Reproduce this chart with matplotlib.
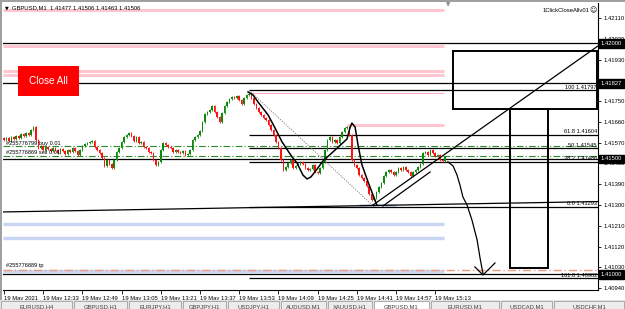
import matplotlib
matplotlib.use("Agg")
import matplotlib.pyplot as plt
from matplotlib.patches import Rectangle
import numpy as np

W, H = 625, 309

# ---- price data (GBPUSD M1), one close per bar ----
FIRST_OPEN = 1.41590
CLOSES = [
    1.41582, 1.41590, 1.41577, 1.41595, 1.41586, 1.41599, 1.41590, 1.41608, 1.41599, 1.41612,
    1.41604, 1.41625, 1.41638, 1.41582, 1.41547, 1.41556, 1.41538, 1.41551, 1.41543, 1.41534,
    1.41547, 1.41538, 1.41525, 1.41543, 1.41534, 1.41521, 1.41538, 1.41530, 1.41547, 1.41534,
    1.41517, 1.41538, 1.41556, 1.41565, 1.41569, 1.41573, 1.41577, 1.41551, 1.41538, 1.41525,
    1.41504, 1.41469, 1.41495, 1.41478, 1.41461, 1.41495, 1.41530, 1.41547, 1.41573, 1.41595,
    1.41604, 1.41612, 1.41599, 1.41577, 1.41595, 1.41569, 1.41573, 1.41551, 1.41547, 1.41530,
    1.41525, 1.41495, 1.41474, 1.41487, 1.41538, 1.41569, 1.41560, 1.41551, 1.41547, 1.41530,
    1.41538, 1.41530, 1.41525, 1.41534, 1.41517, 1.41521, 1.41538, 1.41582, 1.41595, 1.41604,
    1.41621, 1.41660, 1.41694, 1.41703, 1.41712, 1.41729, 1.41703, 1.41681, 1.41660, 1.41699,
    1.41729, 1.41746, 1.41759, 1.41768, 1.41764, 1.41772, 1.41755, 1.41738, 1.41764, 1.41777,
    1.41781, 1.41764, 1.41738, 1.41720, 1.41703, 1.41690, 1.41677, 1.41668, 1.41647, 1.41625,
    1.41604, 1.41573, 1.41547, 1.41495, 1.41452, 1.41465, 1.41482, 1.41495, 1.41461, 1.41469,
    1.41478, 1.41487, 1.41478, 1.41461, 1.41452, 1.41456, 1.41474, 1.41443, 1.41439, 1.41461,
    1.41487, 1.41538, 1.41582, 1.41595, 1.41573, 1.41582, 1.41569, 1.41595, 1.41617, 1.41634,
    1.41638, 1.41604, 1.41495, 1.41474, 1.41461, 1.41430, 1.41417, 1.41404, 1.41383, 1.41348,
    1.41322, 1.41331, 1.41357, 1.41378, 1.41396, 1.41426, 1.41443, 1.41452, 1.41443, 1.41430,
    1.41443, 1.41461, 1.41452, 1.41465, 1.41452, 1.41443, 1.41426, 1.41443, 1.41452, 1.41465,
    1.41478, 1.41525, 1.41530, 1.41517, 1.41538, 1.41525, 1.41513, 1.41517, 1.41495, 1.41491,
    1.41506,
]

TIME_LABELS = ["19 May 2021", "19 May 12:33", "19 May 12:49", "19 May 13:05", "19 May 13:21",
               "19 May 13:37", "19 May 13:53", "19 May 14:09", "19 May 14:25", "19 May 14:41",
               "19 May 14:57", "19 May 15:13"]
BARS_PER_LABEL = 16

PRICE_TICKS = [1.42110, 1.42020, 1.41930, 1.41750, 1.41660, 1.41570,
               1.41480, 1.41390, 1.41300, 1.41210, 1.41120, 1.41030, 1.40940]
MARKED_PRICES = [1.42000, 1.41827, 1.41500, 1.41000]

# horizontal objects
BLACK_LEVELS = [1.42000, 1.41827, 1.41500, 1.41000]
ORDER_LEVELS = [1.41556, 1.41513]
TP_LEVEL = 1.41019
PINK_ZONES = [1.42145, 1.41989, 1.41881, 1.41863]
BLUE_ZONES = [1.41218, 1.41157, 1.41015]
ZONE_END_BAR = 179.6

# fibonacci retracement (bar, price) anchors and levels
FIB_HIGH = (100, 1.41797)
FIB_LOW = (151, 1.41293)
FIB_RATIOS = ["0.0", "38.2", "50", "61.8", "100", "161.8"]
FIB_PRICES = [1.41293, 1.41486, 1.41545, 1.41604, 1.41797, 1.40982]

# trend lines: (bar0, price0, bar1, price1)
TRENDLINES = [
    (-0.41, 1.41270, 242.45, 1.41315),
    (150.6, 1.41300, 242.45, 1.41989),
    (154.7, 1.41296, 173.9, 1.41443),
]

# hand-drawn paths
PATH1_BARS = [99.6, 101.6, 103.7, 107.8, 110.6, 113.5, 117.6, 119.6, 122.0, 123.7, 125.3,
              127.8, 130.2, 135.1, 140.0, 141.2, 142.0, 143.3, 144.5, 146.1, 148.6, 150.6, 152.2]
PATH1_PRICES = [1.41790, 1.41777, 1.41746, 1.41690, 1.41634, 1.41573, 1.41508, 1.41482, 1.41430,
                1.41413, 1.41422, 1.41456, 1.41491, 1.41538, 1.41586, 1.41634, 1.41655, 1.41638,
                1.41560, 1.41474, 1.41400, 1.41344, 1.41300]
PATH2_BARS = [181.2, 183.3, 184.9, 186.1, 187.3, 189.0, 191.0, 193.1, 194.3, 195.5]
PATH2_PRICES = [1.41487, 1.41469, 1.41430, 1.41387, 1.41335, 1.41300, 1.41235, 1.41149,
                1.41071, 1.41002]
TICK_BARS = [192.2, 195.5, 200.4]
TICK_PRICES = [1.41032, 1.40997, 1.41049]

# rectangles: (bar0, bar1, price0, price1)
RECTS = [(183.3, 242.0, 1.41716, 1.41967), (206.5, 222.0, 1.41028, 1.41716)]

TAB_EDGES = [0, 73, 128, 182, 227, 280, 327, 373, 430, 500, 553, 625]
TAB_NAMES = ["EURUSD,H4", "GBPUSD,H1", "EURJPY,H1", "GBPJPY,H1", "USDJPY,H1", "AUDUSD,M1",
             "XAUUSD,H1", "GBPUSD,M1", "EURUSD,M1", "USDCAD,M1", "USDCHF,M1"]
ACTIVE_TAB = 7

UP = "#0c8a0c"
DOWN = "#ff1010"
FS = 4.2


def fx(x):
    return x / W


def fy(y):
    return 1 - y / H


plt.rcParams["font.family"] = ["Liberation Sans", "DejaVu Sans"]
fig = plt.figure(figsize=(W / 100, H / 100), dpi=100)
fig.patch.set_facecolor("white")
ax = fig.add_axes([fx(3), fy(290), fx(595), 287 / H])
ax.set_xlim(-0.41, 242.45)
ax.set_ylim(1.40932, 1.42175)

# candles
closes = np.array(CLOSES)
opens = np.r_[FIRST_OPEN, closes[:-1]]
idx = np.arange(len(closes))
up = closes >= opens
lo = np.minimum(opens, closes)
hi = np.maximum(opens, closes)
colors = np.where(up, UP, DOWN)
ax.vlines(idx, lo - 0.00005, hi + 0.00005, colors=colors, linewidth=0.6, zorder=3)
ax.bar(idx, np.maximum(hi - lo, 0.00002), bottom=lo, width=0.65, color=colors,
       linewidth=0, zorder=3)

# zones
for p in PINK_ZONES:
    ax.hlines(p, -0.41, ZONE_END_BAR, color="#ffc6d0", linewidth=2.2, zorder=1)
ax.hlines(1.41647, 140, ZONE_END_BAR, color="#ffc6d0", linewidth=2.2, zorder=1)
ax.hlines(1.41785, 100, ZONE_END_BAR, color="#ffb0bc", linewidth=0.8, zorder=1)
for p in BLUE_ZONES:
    ax.hlines(p, -0.41, ZONE_END_BAR, color="#c9d5f3", linewidth=2.4, zorder=1)
ax.hlines(1.41300, 145, 160, color="#c9d5f3", linewidth=2.0, zorder=1)

# horizontal lines
for p in BLACK_LEVELS:
    ax.axhline(p, color="black", linewidth=0.9, zorder=2)
for p in ORDER_LEVELS:
    ax.axhline(p, color="#2a8a2a", linewidth=0.8, linestyle=(0, (6, 2, 1, 2)), zorder=2)
ax.axhline(TP_LEVEL, color="#ef9a7a", linewidth=1.0, linestyle=(0, (6, 2, 1, 2)), zorder=2)

# fibonacci
for ratio, p in zip(FIB_RATIOS, FIB_PRICES):
    ax.hlines(p, FIB_HIGH[0], 242.45, color="black", linewidth=0.9, zorder=2)
    ax.text(242.0, p + 0.00003, f"{ratio} {p:.5f}", ha="right", va="bottom", fontsize=4.1,
            zorder=5)
ax.plot([FIB_HIGH[0], FIB_LOW[0]], [FIB_HIGH[1], FIB_LOW[1]], color="#777777",
        linewidth=0.6, linestyle=(0, (1.5, 1.5)), zorder=4)

for b0, p0, b1, p1 in TRENDLINES:
    ax.plot([b0, b1], [p0, p1], color="black", linewidth=0.9, zorder=4)

ax.plot(PATH1_BARS, PATH1_PRICES, color="black", linewidth=1.1, zorder=4)
ax.plot(PATH2_BARS, PATH2_PRICES, color="black", linewidth=0.9, zorder=4)
ax.plot(TICK_BARS, TICK_PRICES, color="black", linewidth=0.9, zorder=4)

for b0, b1, p0, p1 in RECTS:
    ax.add_patch(Rectangle((b0, p0), b1 - b0, p1 - p0, fill=False, edgecolor="black",
                           linewidth=1.4, zorder=4))

# order labels
ax.text(1.0, 1.41568, "#255776799 buy 0.01", fontsize=4.1, va="center", zorder=5)
ax.text(1.0, 1.41527, "#255776869 sell 0.01", fontsize=4.1, va="center", zorder=5)
ax.text(1.0, 1.41040, "#255776889 tp", fontsize=4.1, va="center", zorder=5)

# axes styling
for s in ("left", "top"):
    ax.spines[s].set_visible(False)
for s in ("right", "bottom"):
    ax.spines[s].set_color("black")
    ax.spines[s].set_linewidth(0.8)
ax.yaxis.tick_right()
ax.set_yticks(PRICE_TICKS, [f"{p:.5f}" for p in PRICE_TICKS])
ax.tick_params(axis="y", length=2, width=0.6, pad=1.8, labelsize=FS)
ticks_x = np.arange(len(TIME_LABELS)) * BARS_PER_LABEL
ax.set_xticks(ticks_x, TIME_LABELS)
ax.tick_params(axis="x", length=3, width=0.6, pad=1.5, labelsize=FS)
for lab in ax.get_xticklabels():
    lab.set_ha("left")

for p in MARKED_PRICES:
    ax.text(1.005, p, f"{p:.5f}", transform=ax.get_yaxis_transform(), ha="left",
            va="center", fontsize=FS, color="white", zorder=6, clip_on=False,
            bbox=dict(boxstyle="square,pad=0.3", facecolor="black", edgecolor="black"))

# header texts and button
fig.text(fx(5), fy(8), "▼", fontsize=3.5, va="center", family="DejaVu Sans")
fig.text(fx(12), fy(8), "GBPUSD,M1  1.41477 1.41506 1.41463 1.41506", fontsize=FS,
         va="center")
fig.text(fx(590), fy(10), "1ClickCloseAllv01", fontsize=FS, va="center", ha="right")
fig.text(fx(597), fy(10), "☺", fontsize=5, va="center", ha="right", family="DejaVu Sans")
fig.text(fx(448), fy(5), "▼", fontsize=4, va="center", ha="center", color="#888888",
         family="DejaVu Sans")
fig.patches.append(Rectangle((fx(18), fy(96)), fx(61), 30 / H, transform=fig.transFigure,
                             facecolor="#ff0000", edgecolor="none", zorder=10))
fig.text(fx(48.5), fy(81), "Close All", fontsize=7.2, color="white", ha="center",
         va="center", zorder=11)

# window frame
fig.patches.append(Rectangle((0, fy(2)), 1, 2 / H, transform=fig.transFigure,
                             facecolor="#a0a0a0", edgecolor="none"))
fig.patches.append(Rectangle((0, fy(300)), fx(2), 298 / H, transform=fig.transFigure,
                             facecolor="#a0a0a0", edgecolor="none"))

# tabs
fig.patches.append(Rectangle((0, 0), 1, 9 / H, transform=fig.transFigure,
                             facecolor="#e4e4e4", edgecolor="none"))
for i, name in enumerate(TAB_NAMES):
    x0, x1 = TAB_EDGES[i], TAB_EDGES[i + 1]
    fc = "white" if i == ACTIVE_TAB else "#ececec"
    fig.patches.append(Rectangle((fx(x0 + 1), 0), fx(x1 - x0 - 2), 8 / H,
                                 transform=fig.transFigure, facecolor=fc,
                                 edgecolor="#a0a0a0", linewidth=0.6))
    fig.text(fx((x0 + x1) / 2), fy(304.5), name, fontsize=FS, ha="center", va="top",
             color="#404040")

fig.savefig("out.png", dpi=100)
